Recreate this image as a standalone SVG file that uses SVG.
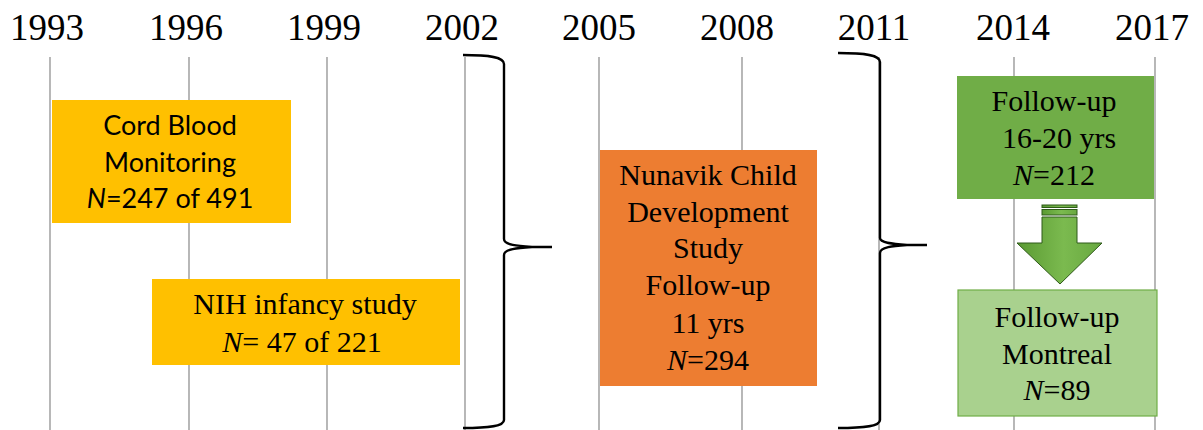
<svg xmlns="http://www.w3.org/2000/svg" width="1203" height="430" viewBox="0 0 1203 430">
<style>
.grid{stroke:#A6A6A6;stroke-width:1.6;fill:none}
.year{font-family:"Liberation Serif","Times New Roman",serif;font-size:37px;fill:#000;text-anchor:middle}
.serif{font-family:"Liberation Serif","Times New Roman",serif;font-size:30px;fill:#000;text-anchor:middle}
.sans{font-family:Lato,"Liberation Sans",sans-serif;font-size:27px;fill:#000;text-anchor:middle}
.brace{stroke:#000;stroke-width:2.4;fill:none;stroke-linejoin:round}
.arrowpart{fill:url(#ag);stroke:#2F5A1A;stroke-width:1}
</style>
<defs>
<linearGradient id="ag" x1="0" y1="0" x2="1" y2="0">
<stop offset="0" stop-color="#5A9A32"/>
<stop offset="0.55" stop-color="#7BBA4F"/>
<stop offset="1" stop-color="#68A840"/>
</linearGradient>
</defs>
<rect width="1203" height="430" fill="#fff"/>
<g id="axis">
<line class="grid" x1="50" y1="57" x2="50" y2="430"/>
<line class="grid" x1="189" y1="57" x2="189" y2="430"/>
<line class="grid" x1="327" y1="57" x2="327" y2="430"/>
<line class="grid" x1="465" y1="57" x2="465" y2="430"/>
<line class="grid" x1="599" y1="57" x2="599" y2="430"/>
<line class="grid" x1="742" y1="57" x2="742" y2="430"/>
<line class="grid" x1="879" y1="57" x2="879" y2="430"/>
<line class="grid" x1="1014" y1="57" x2="1014" y2="430"/>
<line class="grid" x1="1155" y1="57" x2="1155" y2="430"/>
<text class="year" x="47" y="40">1993</text>
<text class="year" x="186" y="40">1996</text>
<text class="year" x="324" y="40">1999</text>
<text class="year" x="462" y="40">2002</text>
<text class="year" x="599" y="40">2005</text>
<text class="year" x="737" y="40">2008</text>
<text class="year" x="874" y="40">2011</text>
<text class="year" x="1013" y="40">2014</text>
<text class="year" x="1152" y="40">2017</text>
</g>
<g id="cord">
<rect x="52" y="100" width="239" height="123" fill="#FFC000"/>
<text class="sans" x="170" y="135">Cord Blood</text>
<text class="sans" x="170" y="172">Monitoring</text>
<text class="sans" x="170" y="208"><tspan font-style="italic">N</tspan>=247 of 491</text>
</g>
<g id="nih">
<rect x="152" y="279" width="308" height="86" fill="#FFC000"/>
<text class="serif" x="305" y="314">NIH infancy  study</text>
<text class="serif" x="302" y="352"><tspan font-style="italic">N</tspan>= 47 of 221</text>
</g>
<g id="nunavik">
<rect x="600" y="150" width="217" height="236" fill="#ED7D31"/>
<text class="serif" x="708" y="185">Nunavik Child</text>
<text class="serif" x="708" y="222">Development</text>
<text class="serif" x="708" y="258">Study</text>
<text class="serif" x="708" y="295">Follow-up</text>
<text class="serif" x="708" y="333">11 yrs</text>
<text class="serif" x="708" y="370"><tspan font-style="italic">N</tspan>=294</text>
</g>
<g id="followup">
<rect x="957" y="76" width="197" height="123" fill="#70AD47"/>
<text class="serif" x="1054" y="111">Follow-up</text>
<text class="serif" x="1059" y="148">16-20 yrs</text>
<text class="serif" x="1054" y="185"><tspan font-style="italic">N</tspan>=212</text>
</g>
<g id="montreal">
<rect x="958" y="290" width="199" height="126" fill="#A9D18E" stroke="#70AD47" stroke-width="1.2"/>
<text class="serif" x="1057" y="327">Follow-up</text>
<text class="serif" x="1057" y="364">Montreal</text>
<text class="serif" x="1057" y="400"><tspan font-style="italic">N</tspan>=89</text>
</g>
<g id="connectors">
<path class="brace" d="M463,55 C490,55 504,57 504,64 L504,239 C504,245 518,246 532,247 L552,247 M532,247 C518,248 504,249 504,255 L504,420 C504,426 490,428 463,428"/>
<path class="brace" d="M838,53 C866,53 880,55 880,62 L880,238 C880,243 893,244 907,245 L927,245 M907,245 C893,246 880,247 880,253 L880,420 C880,426 866,428 838,428"/>
<g id="arrow">
<rect class="arrowpart" x="1042" y="205" width="35" height="2.5"/>
<rect class="arrowpart" x="1042" y="209.5" width="35" height="5.5"/>
<path class="arrowpart" d="M1042,217 L1077,217 L1077,243 L1102,243 L1060,284 L1017,243 L1042,243 Z"/>
</g>
</g>
</svg>
